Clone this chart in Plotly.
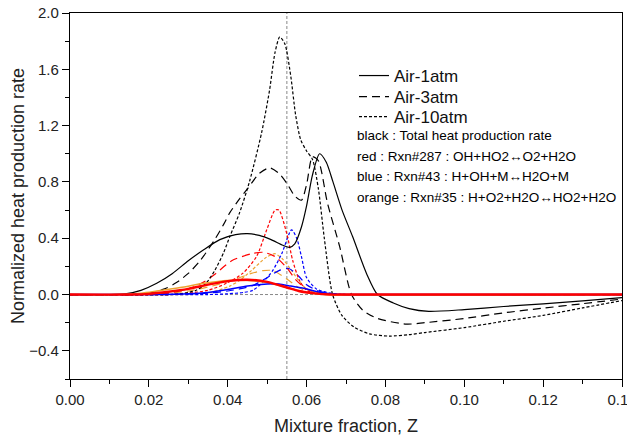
import plotly.graph_objects as go

# ---------------- data ----------------
VLINE_Z = 0.055

# Total heat production rate (black)
z_tot_1 = [0, 0.010, 0.014, 0.018, 0.022, 0.026, 0.030, 0.034, 0.038, 0.042, 0.045, 0.048, 0.051, 0.054,
           0.0557, 0.057, 0.0587, 0.060, 0.0615, 0.0633, 0.065, 0.0667, 0.069, 0.0717, 0.0752, 0.078,
           0.082, 0.086, 0.091, 0.100, 0.110, 0.120, 0.130, 0.140]
y_tot_1 = [0, 0.0, 0.005, 0.03, 0.08, 0.15, 0.24, 0.32, 0.39, 0.425, 0.433, 0.42, 0.39, 0.35,
           0.335, 0.36, 0.48, 0.63, 0.85, 1.0, 0.94, 0.80, 0.60, 0.41, 0.15, 0.0,
           -0.06, -0.10, -0.12, -0.107, -0.085, -0.066, -0.045, -0.022]

z_tot_3 = [0, 0.015, 0.020, 0.024, 0.027, 0.030, 0.033, 0.0367, 0.039, 0.0405, 0.043, 0.045, 0.048, 0.0506,
           0.053, 0.055, 0.057, 0.0587, 0.060, 0.0615, 0.063, 0.0653, 0.0684, 0.0714, 0.0742, 0.078,
           0.0853, 0.090, 0.100, 0.110, 0.120, 0.130, 0.140]
y_tot_3 = [0, 0.0, 0.01, 0.04, 0.085, 0.15, 0.24, 0.39, 0.50, 0.58, 0.68, 0.75, 0.86, 0.90,
           0.86, 0.79, 0.70, 0.67, 0.78, 0.98, 0.95, 0.65, 0.34, 0.0, -0.11, -0.17,
           -0.21, -0.20, -0.17, -0.13, -0.097, -0.065, -0.032]

z_tot_10 = [0, 0.025, 0.028, 0.032, 0.0345, 0.0367, 0.039, 0.0405, 0.043, 0.0456, 0.0486, 0.0506, 0.052,
            0.0532, 0.0545, 0.056, 0.0572, 0.0585, 0.060, 0.0615, 0.063, 0.0645, 0.0666, 0.069, 0.072,
            0.076, 0.081, 0.086, 0.090, 0.100, 0.110, 0.120, 0.130, 0.140]
y_tot_10 = [0, 0.0, 0.005, 0.03, 0.08, 0.17, 0.30, 0.41, 0.58, 0.81, 1.15, 1.45, 1.72,
            1.83, 1.78, 1.55, 1.28, 1.10, 1.02, 0.96, 0.75, 0.40, 0.0, -0.15, -0.23,
            -0.28, -0.295, -0.285, -0.27, -0.235, -0.19, -0.148, -0.095, -0.043]

# Rxn#287 (red)
z_r287_1 = [0, 0.015, 0.020, 0.025, 0.030, 0.035, 0.040, 0.045, 0.050, 0.055, 0.058, 0.062, 0.066, 0.070, 0.140]
y_r287_1 = [0, 0.0, 0.005, 0.02, 0.04, 0.07, 0.095, 0.105, 0.09, 0.05, 0.025, 0.008, 0.0, 0.0, 0.0]
z_r287_3 = [0, 0.020, 0.025, 0.030, 0.034, 0.037, 0.041, 0.046, 0.049, 0.052, 0.055, 0.0574, 0.060, 0.063, 0.067, 0.140]
y_r287_3 = [0, 0.0, 0.01, 0.04, 0.09, 0.15, 0.24, 0.29, 0.30, 0.27, 0.19, 0.10, 0.04, 0.01, 0.0, 0.0]
z_r287_10 = [0, 0.025, 0.030, 0.035, 0.0397, 0.0438, 0.0473, 0.0499, 0.052, 0.053, 0.055, 0.0565, 0.0582, 0.060, 0.063, 0.066, 0.140]
y_r287_10 = [0, 0.0, 0.01, 0.03, 0.08, 0.15, 0.27, 0.46, 0.60, 0.60, 0.43, 0.24, 0.10, 0.03, 0.005, 0.0, 0.0]

# Rxn#43 (blue)
z_r43_1 = [0, 0.020, 0.030, 0.035, 0.040, 0.045, 0.050, 0.053, 0.056, 0.060, 0.063, 0.066, 0.070, 0.140]
y_r43_1 = [0, 0.0, 0.005, 0.015, 0.035, 0.06, 0.075, 0.075, 0.06, 0.04, 0.018, 0.005, 0.0, 0.0]
z_r43_3 = [0, 0.025, 0.035, 0.040, 0.043, 0.0464, 0.050, 0.053, 0.0555, 0.058, 0.060, 0.063, 0.067, 0.070, 0.140]
y_r43_3 = [0, 0.0, 0.01, 0.025, 0.04, 0.065, 0.12, 0.17, 0.185, 0.13, 0.07, 0.025, 0.005, 0.0, 0.0]
z_r43_10 = [0, 0.035, 0.040, 0.044, 0.0464, 0.049, 0.0514, 0.0537, 0.0562, 0.0575, 0.0587, 0.060, 0.0625, 0.066, 0.070, 0.140]
y_r43_10 = [0, 0.0, 0.005, 0.015, 0.03, 0.09, 0.17, 0.29, 0.46, 0.40, 0.27, 0.12, 0.04, 0.01, 0.0, 0.0]

# Rxn#35 (orange)
z_r35_1 = [0, 0.012, 0.018, 0.022, 0.028, 0.034, 0.040, 0.045, 0.050, 0.055, 0.060, 0.065, 0.140]
y_r35_1 = [0, 0.0, 0.01, 0.025, 0.05, 0.08, 0.10, 0.10, 0.085, 0.05, 0.015, 0.0, 0.0]
z_r35_3 = [0, 0.020, 0.026, 0.031, 0.036, 0.041, 0.046, 0.049, 0.0515, 0.055, 0.058, 0.061, 0.065, 0.140]
y_r35_3 = [0, 0.0, 0.01, 0.03, 0.06, 0.10, 0.15, 0.17, 0.17, 0.11, 0.05, 0.015, 0.0, 0.0]
z_r35_10 = [0, 0.030, 0.035, 0.0405, 0.043, 0.046, 0.0498, 0.052, 0.054, 0.0557, 0.058, 0.060, 0.063, 0.066, 0.140]
y_r35_10 = [0, 0.0, 0.01, 0.06, 0.10, 0.17, 0.265, 0.29, 0.25, 0.19, 0.10, 0.04, 0.01, 0.0, 0.0]

legend_names = ["Air-1atm", "Air-3atm", "Air-10atm"]
note_lines = [
    "black : Total heat production rate",
    "red : Rxn#287 : OH+HO2\u2194O2+H2O",
    "blue : Rxn#43 : H+OH+M\u2194H2O+M",
    "orange : Rxn#35 : H+O2+H2O\u2194HO2+H2O",
]

# ---------------- styling ----------------
DASH = {"1": "solid", "3": "8px,5px", "10": "3px,2px"}
BLACK, RED, BLUE, ORANGE = "#000000", "#FF0000", "#0000FF", "#EBA231"
FONT = "Liberation Sans, Arial, sans-serif"

# the page is drawn 8 px down/right of the window corner (body margin)
OFF = 8
W, H = 635, 443
L, R, T, B = 70, 13, 13, 64          # desired plot-area margins on screen
pw, ph = W - L - R, H - T - B


def px_x(px):
    return (px - L) / pw


def px_y(py):
    return (H - B - py) / ph


fig = go.Figure()


def add(z, y, color, dash, width=1.2, name=None, legend=None):
    kw = {}
    if legend:
        kw["legend"] = legend
    fig.add_trace(go.Scatter(
        x=z, y=y, mode="lines", name=name, showlegend=bool(legend),
        line=dict(color=color, dash=dash, width=width, shape="spline", smoothing=0.7),
        hoverinfo="skip", **kw))


# colored reaction curves
add(z_r35_10, y_r35_10, ORANGE, DASH["10"])
add(z_r35_3, y_r35_3, ORANGE, DASH["3"])
add(z_r43_10, y_r43_10, BLUE, DASH["10"])
add(z_r43_3, y_r43_3, BLUE, DASH["3"])
add(z_r287_10, y_r287_10, RED, DASH["10"])
add(z_r287_3, y_r287_3, RED, DASH["3"])
# black totals (legend entries)
add(z_tot_1, y_tot_1, BLACK, DASH["1"], name=legend_names[0], legend="legend")
add(z_tot_3, y_tot_3, BLACK, DASH["3"], name=legend_names[1], legend="legend2")
add(z_tot_10, y_tot_10, BLACK, DASH["10"], name=legend_names[2], legend="legend3")
# solid reaction curves on top
add(z_r35_1, y_r35_1, ORANGE, DASH["1"], width=1.5)
add(z_r43_1, y_r43_1, BLUE, DASH["1"], width=1.5)
add(z_r287_1, y_r287_1, RED, DASH["1"], width=2.4)

# reference lines
fig.add_hline(y=0, line=dict(color="#888888", width=1, dash="3px,2px"), layer="below")
fig.add_vline(x=VLINE_Z, line=dict(color="#888888", width=1, dash="3px,2px"), layer="below")

# notes
note_y = [135, 156, 176, 197]
for txt, py in zip(note_lines, note_y):
    fig.add_annotation(text=txt, xref="paper", yref="paper",
                       x=px_x(355), y=px_y(py),
                       xanchor="left", yanchor="middle", showarrow=False,
                       font=dict(family=FONT, size=13.5, color="black"))

axis_common = dict(
    showline=True, linecolor="black", linewidth=1.3, mirror=True,
    showgrid=False, zeroline=False, automargin=False, ticklabeloverflow="allow",
    ticks="outside", ticklen=7, tickwidth=1.2, tickcolor="black",
    tickfont=dict(family=FONT, size=15, color="#222"),
)

leg_common = dict(xanchor="left", yanchor="middle", bgcolor="rgba(0,0,0,0)", borderwidth=0,
                  font=dict(family=FONT, size=17, color="#111"))
leg_rows = [76, 97, 117]

fig.update_layout(
    width=W - OFF, height=H - OFF,
    margin=dict(l=L - OFF, r=R, t=T - OFF, b=B),
    paper_bgcolor="white", plot_bgcolor="white",
    font=dict(family=FONT, color="#222"),
    xaxis=dict(range=[0, 0.14], dtick=0.02, tick0=0, tickformat=".2f",
               minor=dict(dtick=0.01, ticks="outside", ticklen=4, tickcolor="black"),
               title=dict(text="Mixture fraction, Z", font=dict(family=FONT, size=18), standoff=12),
               **axis_common),
    yaxis=dict(range=[-0.6, 2.0], dtick=0.4, tick0=0, tickformat=".1f",
               minor=dict(dtick=0.2, tick0=0, ticks="outside", ticklen=4, tickcolor="black"),
               title=dict(text="Normalized heat production rate", font=dict(family=FONT, size=18), standoff=4),
               **axis_common),
    legend=dict(x=px_x(354), y=px_y(leg_rows[0]), **leg_common),
    legend2=dict(x=px_x(354), y=px_y(leg_rows[1]), **leg_common),
    legend3=dict(x=px_x(354), y=px_y(leg_rows[2]), **leg_common),
)

fig.write_html("out.html")
